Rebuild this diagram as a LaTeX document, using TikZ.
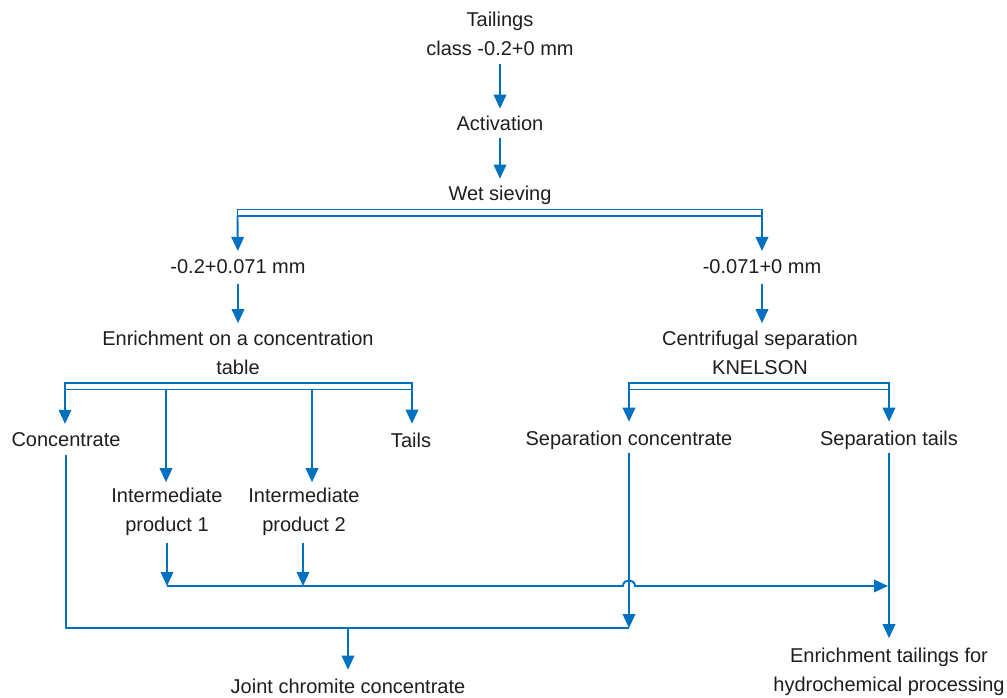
\documentclass[tikz,border=0pt]{standalone}
\usepackage{fontspec}
\setmainfont{Liberation Sans}
\usetikzlibrary{arrows.meta}
\definecolor{flow}{RGB}{0,112,192}
\definecolor{ink}{RGB}{30,30,30}
\begin{document}
\begin{tikzpicture}[x=1pt,y=-1pt,
  lbl/.style={font=\fontsize{20}{29}\selectfont, text=ink, align=center, inner sep=0pt, outer sep=0pt},
  conn/.style={draw=flow, line width=1.9pt},
  arr/.style={conn, -{Triangle[length=14pt,width=12.5pt]}},
  bar/.style={draw=flow, line width=1.9pt}]
\useasboundingbox (0,0) rectangle (1007,697);
% labels
\node[lbl] (tail) at (500,34) {Tailings\\class -0.2+0 mm};
\node[lbl] (act) at (500,123) {Activation};
\node[lbl] (wet) at (500,195) {Wet sieving};
\node[lbl] (f1) at (238,267) {-0.2+0.071 mm};
\node[lbl] (f2) at (762,267) {-0.071+0 mm};
\node[lbl] (tab) at (238,353) {Enrichment on a concentration\\table};
\node[lbl] (cen) at (760,353) {Centrifugal separation\\KNELSON};
\node[lbl] (conc) at (66,440) {Concentrate};
\node[lbl] (tails) at (411,440) {Tails};
\node[lbl] (sconc) at (629,440) {Separation concentrate};
\node[lbl] (stails) at (889,440) {Separation tails};
\node[lbl] (ip1) at (167,512) {Intermediate\\product 1};
\node[lbl] (ip2) at (304,512) {Intermediate\\product 2};
\node[lbl] (joint) at (348,686) {Joint chromite concentrate};
\node[lbl] (enr) at (889,672) {Enrichment tailings for\\hydrochemical processing};
% junction points
\coordinate (b1t) at (237.5,209.5); \coordinate (b1l) at (237.5,216); \coordinate (b1r) at (762,216);
\coordinate (b2t) at (65,383); \coordinate (b2l) at (65,389.5); \coordinate (b2m1) at (166,389.5);
\coordinate (b2m2) at (312,389.5); \coordinate (b2r) at (412,389.5);
\coordinate (b3t) at (629,383); \coordinate (b3l) at (629,389.5); \coordinate (b3r) at (889,389.5);
\coordinate (h1) at (167,586); \coordinate (h2) at (303,586);
\coordinate (hopL) at (623,586); \coordinate (hopR) at (635,586); \coordinate (h3) at (889,586);
\coordinate (c1) at (66,628); \coordinate (c2) at (629,628); \coordinate (c3) at (348,628);
% connectors
\draw[arr, shorten <=8pt, shorten >=7pt] (tail) -- (act);
\draw[arr, shorten <=8pt, shorten >=7pt] (act) -- (wet);
\draw[bar] (b1t) rectangle (b1r);
\draw[arr, shorten >=9pt] (b1l) -- (f1);
\draw[arr, shorten >=9pt] (b1r) -- (f2);
\draw[arr, shorten <=10pt, shorten >=8pt] (f1) -- (tab);
\draw[arr, shorten <=10pt, shorten >=8pt] (f2) -- (f2 |- cen.north);
\draw[bar] (b2t) rectangle (b2r);
\draw[arr, shorten >=9pt] (b2l) -- (b2l |- conc.north);
\draw[arr, shorten >=9pt] (b2r) -- (b2r |- tails.north);
\draw[arr, shorten >=6pt] (b2m1) -- (b2m1 |- ip1.north);
\draw[arr, shorten >=6pt] (b2m2) -- (b2m2 |- ip2.north);
\draw[bar] (b3t) rectangle (b3r);
\draw[arr, shorten >=9pt] (b3l) -- (sconc);
\draw[arr, shorten >=9pt] (b3r) -- (stails);
\draw[arr, shorten <=7pt] (ip1) -- (h1);
\draw[arr, shorten <=7pt] (ip2.south -| h2) -- (h2);
\draw[arr, shorten >=1pt] (h1) -- (hopL) .. controls +(0,-7.5) and +(0,-7.5) .. (hopR) -- (h3);
\draw[conn, shorten <=8pt] (conc) -- (c1) -- (c2);
\draw[arr, shorten <=4pt] (sconc) -- (c2);
\draw[arr, shorten >=9pt] (c3) -- (c3 |- joint.north);
\draw[arr, shorten <=4pt, shorten >=10pt] (stails) -- (enr);
\end{tikzpicture}
\end{document}
